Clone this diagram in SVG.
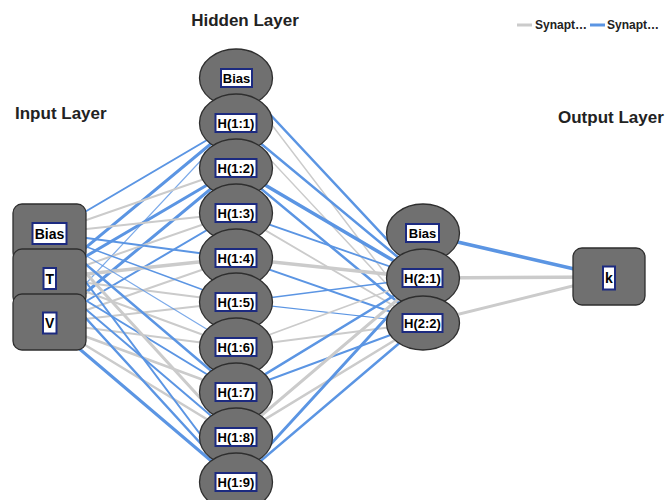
<svg xmlns="http://www.w3.org/2000/svg" width="667" height="500" viewBox="0 0 667 500">
<style>
text{font-family:"Liberation Sans",Arial,sans-serif;font-weight:bold;fill:#000}
.title{font-size:17px;fill:#222}
.leg{font-size:12px;fill:#222}
.nd{fill:#707070;stroke:#2e2e2e;stroke-width:1.3}
.lb{fill:#fff;stroke:#1c2a80;stroke-width:2}
.t12{font-size:13px;text-anchor:middle}
.t13{font-size:14px;text-anchor:middle}
.g{stroke:#cbcbcb;fill:none;stroke-linecap:round}
.b{stroke:#5b95e3;fill:none;stroke-linecap:round}
</style>
<rect width="667" height="500" fill="#fff"/>
<text class="title" x="245" y="26" text-anchor="middle">Hidden Layer</text>
<text class="title" x="15" y="119">Input Layer</text>
<text class="title" x="558" y="123">Output Layer</text>
<g id="legend">
<line x1="517" y1="25" x2="532" y2="25" stroke="#cbcbcb" stroke-width="3"/>
<text class="leg" x="535" y="29">Synapt…</text>
<line x1="590" y1="25" x2="605" y2="25" stroke="#5b95e3" stroke-width="3"/>
<text class="leg" x="607" y="29">Synapt…</text>
</g>
<g id="connectors">
<!-- input to hidden 1 -->
<line class="b" x1="49" y1="233" x2="236" y2="123" stroke-width="2"/>
<line class="b" x1="49" y1="278" x2="236" y2="123" stroke-width="3"/>
<line class="b" x1="49" y1="323" x2="236" y2="123" stroke-width="1.2" opacity="0.8"/>
<line class="g" x1="49" y1="233" x2="236" y2="168" stroke-width="2"/>
<line class="b" x1="49" y1="278" x2="236" y2="168" stroke-width="3"/>
<line class="b" x1="49" y1="323" x2="236" y2="168" stroke-width="3"/>
<line class="g" x1="49" y1="233" x2="236" y2="213" stroke-width="2"/>
<line class="g" x1="49" y1="278" x2="236" y2="213" stroke-width="2"/>
<line class="b" x1="49" y1="323" x2="236" y2="213" stroke-width="2"/>
<line class="b" x1="49" y1="233" x2="236" y2="258" stroke-width="2"/>
<line class="g" x1="49" y1="278" x2="236" y2="258" stroke-width="3.5"/>
<line class="g" x1="49" y1="323" x2="236" y2="258" stroke-width="2"/>
<line class="b" x1="49" y1="233" x2="236" y2="302" stroke-width="1.5"/>
<line class="g" x1="49" y1="278" x2="236" y2="302" stroke-width="2"/>
<line class="g" x1="49" y1="323" x2="236" y2="302" stroke-width="2"/>
<line class="b" x1="49" y1="233" x2="236" y2="347" stroke-width="1.2" opacity="0.8"/>
<line class="g" x1="49" y1="278" x2="236" y2="347" stroke-width="2"/>
<line class="g" x1="49" y1="323" x2="236" y2="347" stroke-width="2"/>
<line class="b" x1="49" y1="233" x2="236" y2="392" stroke-width="2.5"/>
<line class="b" x1="49" y1="278" x2="236" y2="392" stroke-width="2"/>
<line class="g" x1="49" y1="323" x2="236" y2="392" stroke-width="2.5"/>
<line class="g" x1="49" y1="233" x2="236" y2="437" stroke-width="3"/>
<line class="b" x1="49" y1="278" x2="236" y2="437" stroke-width="2"/>
<line class="g" x1="49" y1="323" x2="236" y2="437" stroke-width="2.5"/>
<line class="b" x1="49" y1="233" x2="236" y2="482" stroke-width="2"/>
<line class="b" x1="49" y1="278" x2="236" y2="482" stroke-width="2.5"/>
<line class="b" x1="49" y1="323" x2="236" y2="482" stroke-width="3"/>
<!-- hidden 1 to hidden 2 -->
<line class="b" x1="236" y1="78" x2="423" y2="278" stroke-width="2.5"/>
<line class="g" x1="236" y1="78" x2="423" y2="323" stroke-width="1.5"/>
<line class="b" x1="236" y1="123" x2="423" y2="278" stroke-width="2.5"/>
<line class="g" x1="236" y1="123" x2="423" y2="323" stroke-width="1.5"/>
<line class="b" x1="236" y1="168" x2="423" y2="278" stroke-width="3.5"/>
<line class="b" x1="236" y1="168" x2="423" y2="323" stroke-width="2.5"/>
<line class="b" x1="236" y1="213" x2="423" y2="278" stroke-width="1.8"/>
<line class="g" x1="236" y1="213" x2="423" y2="323" stroke-width="1.8"/>
<line class="g" x1="236" y1="258" x2="423" y2="278" stroke-width="3.5"/>
<line class="b" x1="236" y1="258" x2="423" y2="323" stroke-width="2"/>
<line class="b" x1="236" y1="302" x2="423" y2="278" stroke-width="1.5"/>
<line class="b" x1="236" y1="302" x2="423" y2="323" stroke-width="1.2"/>
<line class="g" x1="236" y1="347" x2="423" y2="278" stroke-width="1.5"/>
<line class="g" x1="236" y1="347" x2="423" y2="323" stroke-width="2"/>
<line class="b" x1="236" y1="392" x2="423" y2="278" stroke-width="2.5"/>
<line class="b" x1="236" y1="392" x2="423" y2="323" stroke-width="2"/>
<line class="g" x1="236" y1="437" x2="423" y2="278" stroke-width="3"/>
<line class="g" x1="236" y1="437" x2="423" y2="323" stroke-width="2.5"/>
<line class="b" x1="236" y1="482" x2="423" y2="278" stroke-width="3"/>
<line class="b" x1="236" y1="482" x2="423" y2="323" stroke-width="2.5"/>
<!-- hidden 2 to output -->
<line class="b" x1="423" y1="234" x2="609" y2="277" stroke-width="3.5"/>
<line class="g" x1="423" y1="278" x2="609" y2="277" stroke-width="3.5"/>
<line class="g" x1="423" y1="323" x2="609" y2="277" stroke-width="3"/>
</g>
<!-- input layer -->
<g id="in_bias"><rect class="nd" x="13" y="204" width="73" height="57" rx="9"/><rect class="lb" x="32.5" y="223" width="34" height="21"/><text class="t13" x="49.5" y="238.5">Bias</text></g>
<g id="in_T"><rect class="nd" x="13" y="249" width="73" height="57" rx="9"/><rect class="lb" x="43.5" y="268" width="12.5" height="21"/><text class="t13" x="49.7" y="283.5">T</text></g>
<g id="in_V"><rect class="nd" x="13" y="294" width="73" height="56" rx="9"/><rect class="lb" x="43" y="312.5" width="13.5" height="21"/><text class="t13" x="49.7" y="328">V</text></g>
<!-- hidden layer 1 -->
<g id="h1_bias"><ellipse class="nd" cx="236" cy="78" rx="36.5" ry="29"/><rect class="lb" x="221" y="69" width="31" height="18"/><text class="t12" x="236.5" y="82.5">Bias</text></g>
<g id="h1_1"><ellipse class="nd" cx="236" cy="123" rx="36.5" ry="29"/><rect class="lb" x="215.5" y="114" width="41" height="18"/><text class="t12" x="236" y="127.5">H(1:1)</text></g>
<g id="h1_2"><ellipse class="nd" cx="236" cy="168" rx="36.5" ry="29"/><rect class="lb" x="215.5" y="159" width="41" height="18"/><text class="t12" x="236" y="172.5">H(1:2)</text></g>
<g id="h1_3"><ellipse class="nd" cx="236" cy="213" rx="36.5" ry="29"/><rect class="lb" x="215.5" y="204" width="41" height="18"/><text class="t12" x="236" y="217.5">H(1:3)</text></g>
<g id="h1_4"><ellipse class="nd" cx="236" cy="258" rx="36.5" ry="29"/><rect class="lb" x="215.5" y="249" width="41" height="18"/><text class="t12" x="236" y="262.5">H(1:4)</text></g>
<g id="h1_5"><ellipse class="nd" cx="236" cy="302" rx="36.5" ry="29"/><rect class="lb" x="215.5" y="293" width="41" height="18"/><text class="t12" x="236" y="306.5">H(1:5)</text></g>
<g id="h1_6"><ellipse class="nd" cx="236" cy="347" rx="36.5" ry="29"/><rect class="lb" x="215.5" y="338" width="41" height="18"/><text class="t12" x="236" y="351.5">H(1:6)</text></g>
<g id="h1_7"><ellipse class="nd" cx="236" cy="392" rx="36.5" ry="29"/><rect class="lb" x="215.5" y="383" width="41" height="18"/><text class="t12" x="236" y="396.5">H(1:7)</text></g>
<g id="h1_8"><ellipse class="nd" cx="236" cy="437" rx="36.5" ry="29"/><rect class="lb" x="215.5" y="428" width="41" height="18"/><text class="t12" x="236" y="441.5">H(1:8)</text></g>
<g id="h1_9"><ellipse class="nd" cx="236" cy="482" rx="36.5" ry="29"/><rect class="lb" x="215.5" y="473" width="41" height="18"/><text class="t12" x="236" y="486.5">H(1:9)</text></g>
<!-- hidden layer 2 -->
<g id="h2_bias"><ellipse class="nd" cx="423" cy="233" rx="36.5" ry="29"/><rect class="lb" x="406" y="224" width="33" height="18"/><text class="t12" x="422.5" y="237.5">Bias</text></g>
<g id="h2_1"><ellipse class="nd" cx="423" cy="278" rx="36.5" ry="29"/><rect class="lb" x="402.5" y="269" width="40" height="18"/><text class="t12" x="422.5" y="282.5">H(2:1)</text></g>
<g id="h2_2"><ellipse class="nd" cx="423" cy="323" rx="36.5" ry="27"/><rect class="lb" x="402.5" y="314" width="40" height="18"/><text class="t12" x="422.5" y="327.5">H(2:2)</text></g>
<!-- output -->
<g id="out_k"><rect class="nd" x="573" y="248" width="72" height="57" rx="9"/><rect class="lb" x="603" y="266.5" width="12" height="23"/><text class="t13" x="609" y="283">k</text></g>
</svg>
